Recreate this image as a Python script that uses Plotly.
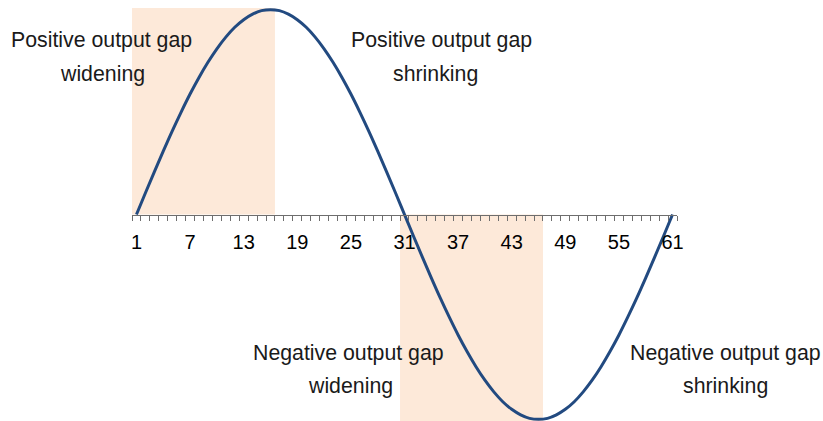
import plotly.graph_objects as go

# ---- data ----
periods = list(range(1, 62))
output_gap = [0.000, 0.105, 0.208, 0.309, 0.407, 0.500, 0.588, 0.669, 0.743, 0.809,
              0.866, 0.914, 0.951, 0.978, 0.995, 1.000, 0.995, 0.978, 0.951, 0.914,
              0.866, 0.809, 0.743, 0.669, 0.588, 0.500, 0.407, 0.309, 0.208, 0.105,
              0.000, -0.105, -0.208, -0.309, -0.407, -0.500, -0.588, -0.669, -0.743, -0.809,
              -0.866, -0.914, -0.951, -0.978, -0.995, -1.000, -0.995, -0.978, -0.951, -0.914,
              -0.866, -0.809, -0.743, -0.669, -0.588, -0.500, -0.407, -0.309, -0.208, -0.105,
              0.000]
tick_labels = [1, 7, 13, 19, 25, 31, 37, 43, 49, 55, 61]
# shaded phases: (first period, last period, side)
shaded_phases = [(1, 16, "up"), (31, 46, "down")]
phase_labels = [
    ("Positive output gap", "widening"),
    ("Positive output gap", "shrinking"),
    ("Negative output gap", "widening"),
    ("Negative output gap", "shrinking"),
]

W, H = 823, 421
# plot area in window pixels: x 132..677, y 8..421
ML, MR, MT, MB = 132, W - 677, 8, 0
PW, PH = W - ML - MR, H - MT - MB

def px(xp):
    return (xp - ML) / PW

def py(yp):
    return (H - MB - yp) / PH

fig = go.Figure()

shapes = []
for start, end, side in shaded_phases:
    shapes.append(dict(type="rect", xref="x", yref="paper",
                       x0=start - 0.5, x1=end + 0.5,
                       y0=0.5 if side == "up" else 0, y1=1 if side == "up" else 0.5,
                       fillcolor="#FDE9D9", line=dict(width=0), layer="below"))

fig.add_trace(go.Scatter(x=periods, y=output_gap, mode="lines",
                         line=dict(color="#224A80", width=3, shape="spline"),
                         hoverinfo="skip", showlegend=False))

# annotation pixel centres in the window (line1, line2)
label_pos = [
    ((101.7, 40), (102.5, 74)),
    ((441.0, 40), (435.0, 74)),
    ((348.5, 353), (350.5, 386)),
    ((725.0, 353), (725.0, 386)),
]
annotations = []
for (l1, l2), ((x1p, y1p), (x2p, y2p)) in zip(phase_labels, label_pos):
    for txt, xp, yp in ((l1, x1p, y1p), (l2, x2p, y2p)):
        annotations.append(dict(text=txt, xref="paper", yref="paper",
                                x=px(xp), y=py(yp), xanchor="center", yanchor="middle",
                                showarrow=False,
                                font=dict(family="Liberation Sans, Arial", size=21.3, color="#1a1a1a")))

fig.update_layout(
    width=W, height=H,
    margin=dict(l=ML, r=MR, t=MT, b=MB, pad=0),
    paper_bgcolor="white", plot_bgcolor="white",
    shapes=shapes, annotations=annotations,
    xaxis=dict(range=[0.5, 61.5], anchor="free", position=0.5,
               showline=True, linecolor="#6E6E6E", linewidth=1.5,
               tickmode="array", tickvals=tick_labels, ticktext=[str(t) for t in tick_labels],
               ticks="outside", ticklen=9, tickcolor="rgba(0,0,0,0)",
               tickfont=dict(family="Liberation Sans, Arial", size=20, color="#000000"),
               minor=dict(tickmode="array", tickvals=[p + 0.5 for p in [0] + periods],
                          ticks="outside", ticklen=5, tickwidth=1, tickcolor="#6E6E6E"),
               showgrid=False, zeroline=False, fixedrange=True),
    yaxis=dict(range=[-1.008, 1.008], visible=False, showgrid=False, zeroline=False,
               fixedrange=True),
)

fig.write_html("out.html", config={"displayModeBar": False, "staticPlot": True},
               post_script="document.body.style.margin='0';document.body.style.overflow='hidden';")
